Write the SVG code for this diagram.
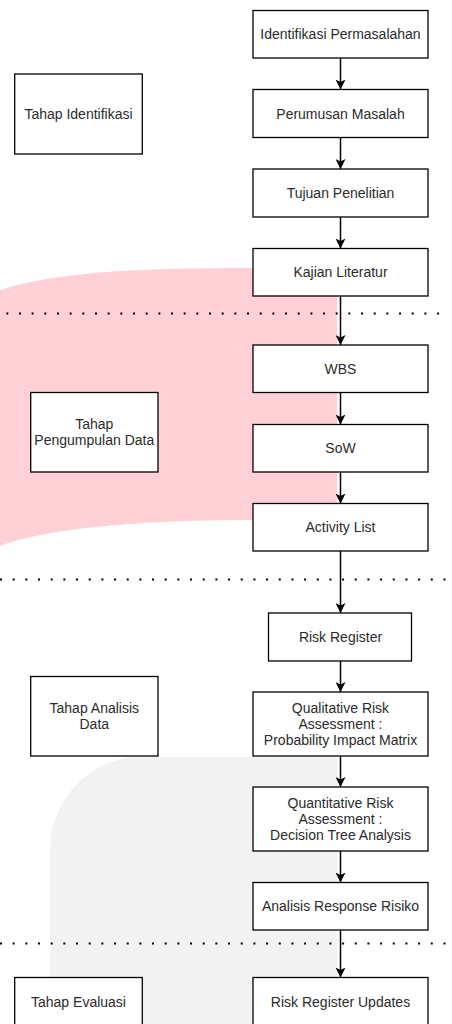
<svg xmlns="http://www.w3.org/2000/svg" width="452" height="1024" viewBox="0 0 452 1024">
<defs>
<style>
.box{fill:#fff;stroke:#000;stroke-width:1.3}
.t{font-family:"Liberation Sans",Arial,sans-serif;font-size:14px;fill:#2b2b2b;text-anchor:middle}
.sep{stroke:#000;stroke-width:2;stroke-dasharray:2 10.67;fill:none}
.c{stroke:#000;stroke-width:1.5;fill:none;marker-end:url(#ah)}
</style>
<marker id="ah" viewBox="0 0 10 10" refX="10" refY="5" markerWidth="10" markerHeight="10" markerUnits="userSpaceOnUse" orient="auto">
<path d="M0,0 L10,5 L0,10 L2.5,5 Z" fill="#000"/>
</marker>
</defs>
<g id="background">
<path d="M337,268 L250,268 C150,268 50,271 -5,292 L-5,548 C45,527 150,520 255,520 L337,520 Z" fill="#FFD1D6"/>
<path d="M337,757 L140,757 C90,757 50,800 50,850 L50,1030 L337,1030 Z" fill="#F2F2F2"/>
</g>
<g id="separators">
<line class="sep" x1="6.3" y1="313.5" x2="440" y2="313.5"/>
<line class="sep" x1="0" y1="579.5" x2="446" y2="579.5"/>
<line class="sep" x1="0" y1="943.5" x2="446" y2="943.5"/>
</g>
<g id="connectors">
<line class="c" x1="340.5" y1="58" x2="340.5" y2="89.5"/>
<line class="c" x1="340.5" y1="137.5" x2="340.5" y2="169"/>
<line class="c" x1="340.5" y1="217" x2="340.5" y2="248.5"/>
<line class="c" x1="340.5" y1="296" x2="340.5" y2="345"/>
<line class="c" x1="340.5" y1="392.5" x2="340.5" y2="424.5"/>
<line class="c" x1="340.5" y1="472" x2="340.5" y2="503.5"/>
<line class="c" x1="340.5" y1="551" x2="340.5" y2="613"/>
<line class="c" x1="340.5" y1="661" x2="340.5" y2="692"/>
<line class="c" x1="340.5" y1="756" x2="340.5" y2="787"/>
<line class="c" x1="340.5" y1="851" x2="340.5" y2="882.5"/>
<line class="c" x1="340.5" y1="930" x2="340.5" y2="977.5"/>
</g>
<g id="n1"><rect class="box" x="253" y="10.5" width="175" height="47.5"/><text class="t" x="340.5" y="39">Identifikasi Permasalahan</text></g>
<g id="n2"><rect class="box" x="253" y="89.5" width="175" height="48"/><text class="t" x="340.5" y="118.5">Perumusan Masalah</text></g>
<g id="n3"><rect class="box" x="253" y="169" width="175" height="48"/><text class="t" x="340.5" y="198">Tujuan Penelitian</text></g>
<g id="n4"><rect class="box" x="253" y="248.5" width="175" height="47.5"/><text class="t" x="340.5" y="277">Kajian Literatur</text></g>
<g id="n5"><rect class="box" x="253" y="345" width="175" height="47.5"/><text class="t" x="340.5" y="373.5">WBS</text></g>
<g id="n6"><rect class="box" x="253" y="424.5" width="175" height="47.5"/><text class="t" x="340.5" y="453">SoW</text></g>
<g id="n7"><rect class="box" x="253" y="503.5" width="175" height="47.5"/><text class="t" x="340.5" y="532">Activity List</text></g>
<g id="n8"><rect class="box" x="268.5" y="613" width="143" height="48"/><text class="t" x="340.5" y="642">Risk Register</text></g>
<g id="n9"><rect class="box" x="253" y="692" width="175" height="64"/><text class="t" x="340.5" y="713">Qualitative Risk</text><text class="t" x="340.5" y="729">Assessment :</text><text class="t" x="340.5" y="745">Probability Impact Matrix</text></g>
<g id="n10"><rect class="box" x="253" y="787" width="175" height="64"/><text class="t" x="340.5" y="808">Quantitative Risk</text><text class="t" x="340.5" y="824">Assessment :</text><text class="t" x="340.5" y="840">Decision Tree Analysis</text></g>
<g id="n11"><rect class="box" x="253" y="882.5" width="175" height="47.5"/><text class="t" x="340.5" y="911">Analisis Response Risiko</text></g>
<g id="n12"><rect class="box" x="253" y="977.5" width="175" height="48"/><text class="t" x="340.5" y="1006.5">Risk Register Updates</text></g>
<g id="p1"><rect class="box" x="14.7" y="74" width="127.6" height="80"/><text class="t" x="78.5" y="118.5">Tahap Identifikasi</text></g>
<g id="p2"><rect class="box" x="30.7" y="392.5" width="127.3" height="79.5"/><text class="t" x="94.3" y="429">Tahap</text><text class="t" x="94.3" y="445">Pengumpulan Data</text></g>
<g id="p3"><rect class="box" x="30.7" y="676.5" width="127.3" height="79.5"/><text class="t" x="94.3" y="713">Tahap Analisis</text><text class="t" x="94.3" y="729">Data</text></g>
<g id="p4"><rect class="box" x="14.7" y="977.5" width="127.6" height="48"/><text class="t" x="78.5" y="1006.5">Tahap Evaluasi</text></g>
</svg>
